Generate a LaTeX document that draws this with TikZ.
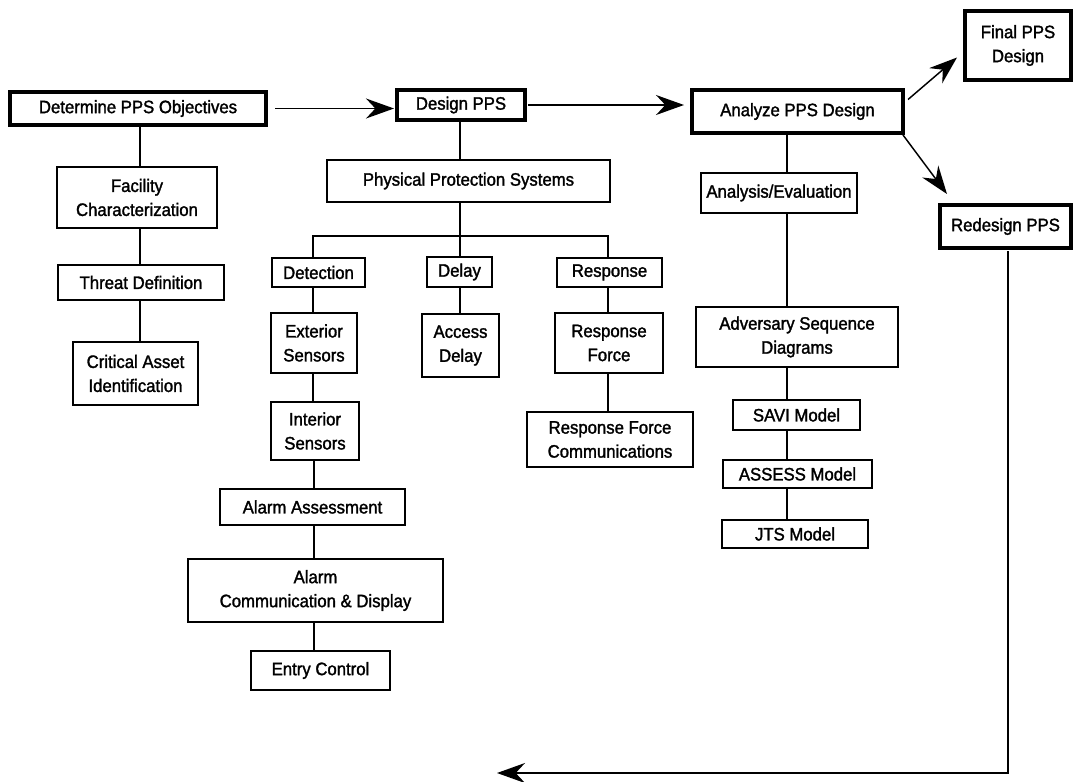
\documentclass[tikz,border=0pt]{standalone}
\usepackage{fontspec}
\setmainfont{Liberation Sans}[FakeStretch=0.93,FakeBold=1.6]
\usetikzlibrary{arrows.meta,calc}
\begin{document}
\begin{tikzpicture}[x=0.75pt,y=-0.75pt,
  box/.style={draw, line width=0.9pt, inner sep=0pt, outer sep=0pt, align=center,
    font=\fontsize{13.5}{18}\selectfont},
  tbox/.style={box, line width=3pt},
  sz/.style 2 args={minimum width=#1*0.75pt, minimum height=#2*0.75pt},
  link/.style={line width=0.8pt},
  arr/.style={line width=1.1pt, -{Stealth[length=21pt,width=15pt,inset=7pt]}}
]
\useasboundingbox (0,0) rectangle (1075,782);
\fill[white] (0,0) rectangle (1075,782);

% column coordinates
\coordinate (c1) at (140,0);
\coordinate (c2) at (313,0);
\coordinate (c3) at (460,0);
\coordinate (c4) at (608,0);
\coordinate (c5) at (787,0);

% top row
\node[tbox, sz={256}{33}] (obj) at (138,108.5) {Determine PPS Objectives};
\node[tbox, sz={128}{30}] (des) at (461,105) {Design PPS};
\node[tbox, sz={211}{43}] (ana) at (797.5,111.5) {Analyze PPS Design};
\node[tbox, sz={106}{69}] (fin) at (1018,45.5) {Final PPS\\Design};
\node[tbox, sz={131}{43}] (red) at (1005.5,226.5) {Redesign PPS};

% left column
\node[box, sz={160}{61}] (fac) at (137,197.5) {Facility\\Characterization};
\node[box, sz={166}{35}] (thr) at (141,282.5) {Threat Definition};
\node[box, sz={125}{63}] (crit) at (135.5,373.5) {Critical Asset\\Identification};

% design column
\node[box, sz={283}{42}] (pps) at (468.5,181) {Physical Protection Systems};
\node[box, sz={93}{29}] (det) at (318.5,272.5) {Detection};
\node[box, sz={65}{30}] (del) at (459.5,272) {Delay};
\node[box, sz={105}{29}] (resp) at (609.5,272.5) {Response};
\node[box, sz={86}{60}] (ext) at (314,343) {Exterior\\Sensors};
\node[box, sz={77}{63}] (acc) at (460.5,345.5) {Access\\Delay};
\node[box, sz={108}{60}] (rf) at (609,343) {Response\\Force};
\node[box, sz={88}{58}] (int) at (315,431) {Interior\\Sensors};
\node[box, sz={166}{55}] (rfc) at (610,439.5) {Response Force\\Communications};
\node[box, sz={185}{36}] (aa) at (312.5,507) {Alarm Assessment};
\node[box, sz={255}{63}] (acd) at (315.5,590.5) {Alarm\\Communication \& Display};
\node[box, sz={139}{39}] (ec) at (320.5,670.5) {Entry Control};

% analysis column
\node[box, sz={156}{40}] (ae) at (779,193) {Analysis/Evaluation};
\node[box, sz={202}{60}] (asd) at (797,337) {Adversary Sequence\\Diagrams};
\node[box, sz={127}{30}] (savi) at (796.5,415) {SAVI Model};
\node[box, sz={149}{28}] (assess) at (797.5,474) {ASSESS Model};
\node[box, sz={146}{28}] (jts) at (795,534) {JTS Model};

% main arrows
\draw[arr, shorten <=9*0.75pt, shorten >=3*0.75pt] (obj.east) -- (obj.east -| des.west);
\draw[arr, shorten <=3*0.75pt, shorten >=8*0.75pt] (des.east) -- (des.east -| ana.west);
\draw[arr] ([shift={(5,-12)}]ana.east) -- ([shift={(-8,12)}]fin.west);
\draw[arr] ([shift={(0,2)}]ana.south east) -- ([shift={(7,-11)}]red.north west);
\coordinate (fbend) at (497,773);
\draw[arr, line width=1.4pt, shorten <=3*0.75pt] ([xshift=2.5*0.75pt]red.south) |- (fbend);

% left links
\draw[link] (obj.south -| c1) -- (fac.north -| c1);
\draw[link] (fac.south -| c1) -- (thr.north -| c1);
\draw[link] (thr.south -| c1) -- (crit.north -| c1);

% design links
\coordinate (bus) at (460,236);
\draw[link] (des.south -| c3) -- (pps.north -| c3);
\draw[link] (pps.south -| c3) -- (bus);
\draw[link] (det.north -| c2) |- (bus) -| (resp.north -| c4);
\draw[link] (bus) -- (del.north -| c3);
\draw[link] (det.south -| c2) -- (ext.north -| c2);
\draw[link] (ext.south -| c2) -- (int.north -| c2);
\draw[link] ([xshift=0.75pt]int.south -| c2) -- ([xshift=0.75pt]aa.north -| c2);
\draw[link] ([xshift=0.75pt]aa.south -| c2) -- ([xshift=0.75pt]acd.north -| c2);
\draw[link] ([xshift=0.75pt]acd.south -| c2) -- ([xshift=0.75pt]ec.north -| c2);
\draw[link] (del.south -| c3) -- (acc.north -| c3);
\draw[link] (resp.south -| c4) -- (rf.north -| c4);
\draw[link] (rf.south -| c4) -- (rfc.north -| c4);

% analysis links
\draw[link] (ana.south -| c5) -- (ae.north -| c5);
\draw[link] (ae.south -| c5) -- (asd.north -| c5);
\draw[link] (asd.south -| c5) -- (savi.north -| c5);
\draw[link] (savi.south -| c5) -- (assess.north -| c5);
\draw[link] (assess.south -| c5) -- (jts.north -| c5);
\end{tikzpicture}
\end{document}
